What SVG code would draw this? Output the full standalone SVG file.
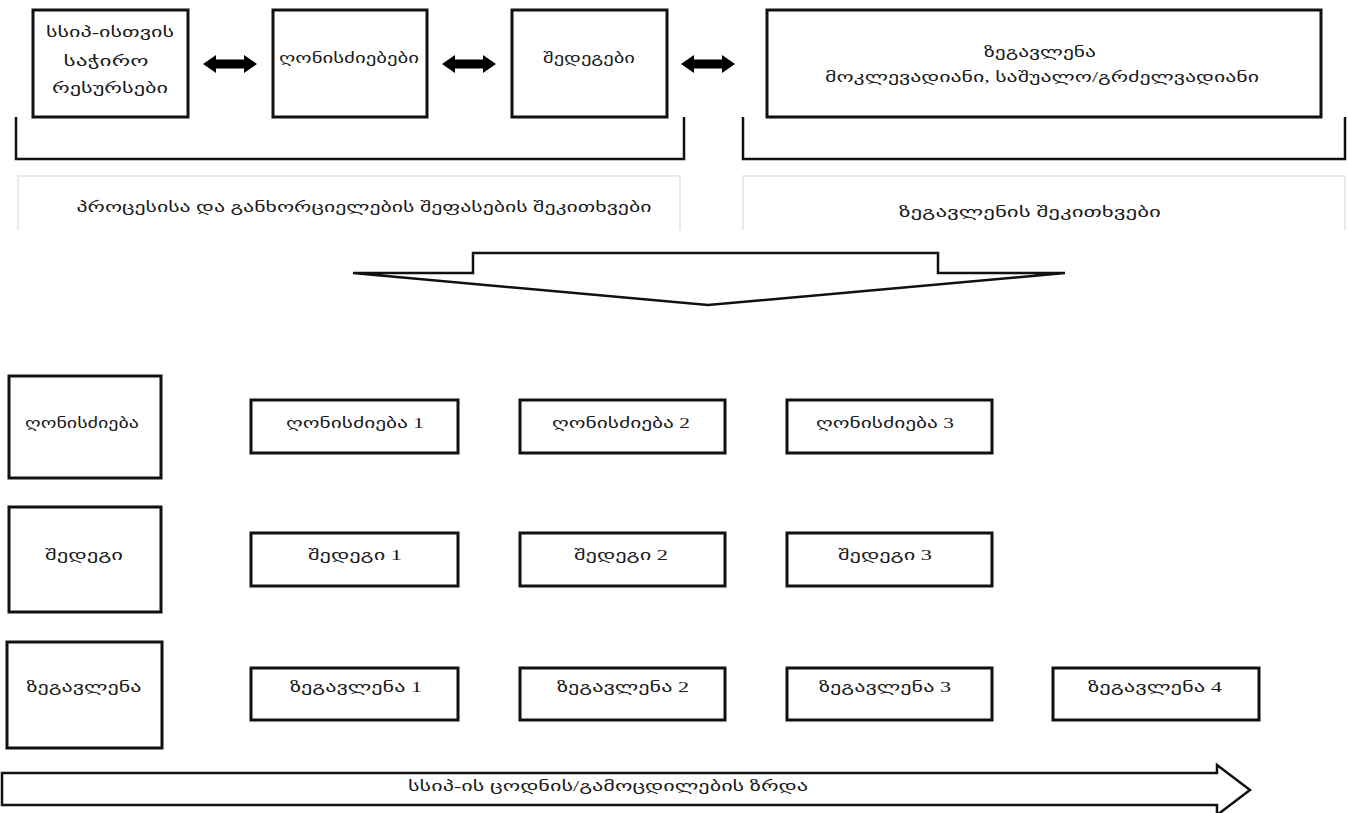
<svg xmlns="http://www.w3.org/2000/svg" width="1348" height="813" viewBox="0 0 1348 813">
  <style>
    .box { fill: #ffffff; stroke: #111111; stroke-width: 3; }
    .line { fill: none; stroke: #111111; stroke-width: 2.5; }
    .frame { fill: none; stroke: #e4e4e4; stroke-width: 1.5; }
    .dbl { fill: #000000; stroke: none; }
    .big { fill: #ffffff; stroke: #111111; stroke-width: 2.5; stroke-linejoin: miter; }
    text { font-family: "Liberation Serif", "DejaVu Sans", sans-serif; font-size: 14px; fill: #1a1a1a; text-anchor: middle; }
  </style>
  <defs>
    <!-- horizontal two-headed arrow, 54 px long, centred on the origin -->
    <polygon id="twoWay" class="dbl" points="-27,0 -14,-9 -14,-4.5 14,-4.5 14,-9 27,0 14,9 14,4.5 -14,4.5 -14,9"/>
  </defs>

  <rect width="1348" height="813" fill="#ffffff"/>

  <!-- upper chain -->
  <g id="resources">
    <rect class="box" x="33" y="10" width="155" height="107"/>
    <text x="110" y="37" textLength="128" lengthAdjust="spacingAndGlyphs">სსიპ-ისთვის</text>
    <text x="106" y="66" textLength="85" lengthAdjust="spacingAndGlyphs">საჭირო</text>
    <text x="110" y="93" textLength="116" lengthAdjust="spacingAndGlyphs">რესურსები</text>
  </g>
  <g id="activities">
    <rect class="box" x="273" y="10" width="154" height="107"/>
    <text x="349" y="63" textLength="140" lengthAdjust="spacingAndGlyphs">ღონისძიებები</text>
  </g>
  <g id="outputs">
    <rect class="box" x="512" y="10" width="155" height="107"/>
    <text x="589" y="63" textLength="92" lengthAdjust="spacingAndGlyphs">შედეგები</text>
  </g>
  <g id="impact">
    <rect class="box" x="767" y="10" width="554" height="107"/>
    <text x="1040" y="57" textLength="112" lengthAdjust="spacingAndGlyphs">ზეგავლენა</text>
    <text x="1042" y="82" textLength="434" lengthAdjust="spacingAndGlyphs">მოკლევადიანი, საშუალო/გრძელვადიანი</text>
  </g>

  <!-- question panels -->
  <g id="process-questions">
    <path class="frame" d="M18,230 V176 H680 V230"/>
    <text x="364" y="212" textLength="575" lengthAdjust="spacingAndGlyphs">პროცესისა და განხორციელების შეფასების შეკითხვები</text>
  </g>
  <g id="impact-questions">
    <path class="frame" d="M743,230 V176 H1345 V230"/>
    <text x="1030" y="217" textLength="262" lengthAdjust="spacingAndGlyphs">ზეგავლენის შეკითხვები</text>
  </g>

  <!-- row headers -->
  <g id="row-activity">
    <rect class="box" x="9" y="376" width="152" height="102"/>
    <text x="82" y="428" textLength="114" lengthAdjust="spacingAndGlyphs">ღონისძიება</text>
  </g>
  <g id="row-output">
    <rect class="box" x="9" y="507" width="152" height="105"/>
    <text x="84" y="560" textLength="78" lengthAdjust="spacingAndGlyphs">შედეგი</text>
  </g>
  <g id="row-impact">
    <rect class="box" x="7" y="642" width="155" height="106"/>
    <text x="84" y="692" textLength="115" lengthAdjust="spacingAndGlyphs">ზეგავლენა</text>
  </g>

  <!-- activity row -->
  <g id="activity-1">
    <rect class="box" x="251" y="400" width="207" height="53"/>
    <text x="355" y="428" textLength="138" lengthAdjust="spacingAndGlyphs">ღონისძიება 1</text>
  </g>
  <g id="activity-2">
    <rect class="box" x="520" y="400" width="205" height="53"/>
    <text x="621" y="428" textLength="138" lengthAdjust="spacingAndGlyphs">ღონისძიება 2</text>
  </g>
  <g id="activity-3">
    <rect class="box" x="787" y="400" width="205" height="53"/>
    <text x="885" y="428" textLength="138" lengthAdjust="spacingAndGlyphs">ღონისძიება 3</text>
  </g>

  <!-- output row -->
  <g id="output-1">
    <rect class="box" x="251" y="533" width="207" height="53"/>
    <text x="355" y="560" textLength="94" lengthAdjust="spacingAndGlyphs">შედეგი 1</text>
  </g>
  <g id="output-2">
    <rect class="box" x="520" y="533" width="205" height="53"/>
    <text x="621" y="560" textLength="94" lengthAdjust="spacingAndGlyphs">შედეგი 2</text>
  </g>
  <g id="output-3">
    <rect class="box" x="787" y="533" width="205" height="53"/>
    <text x="885" y="560" textLength="94" lengthAdjust="spacingAndGlyphs">შედეგი 3</text>
  </g>

  <!-- impact row -->
  <g id="impact-1">
    <rect class="box" x="251" y="668" width="207" height="52"/>
    <text x="356" y="692" textLength="132" lengthAdjust="spacingAndGlyphs">ზეგავლენა 1</text>
  </g>
  <g id="impact-2">
    <rect class="box" x="520" y="668" width="205" height="52"/>
    <text x="623" y="692" textLength="132" lengthAdjust="spacingAndGlyphs">ზეგავლენა 2</text>
  </g>
  <g id="impact-3">
    <rect class="box" x="787" y="668" width="205" height="52"/>
    <text x="885" y="692" textLength="132" lengthAdjust="spacingAndGlyphs">ზეგავლენა 3</text>
  </g>
  <g id="impact-4">
    <rect class="box" x="1053" y="668" width="206" height="52"/>
    <text x="1155" y="692" textLength="134" lengthAdjust="spacingAndGlyphs">ზეგავლენა 4</text>
  </g>

  <!-- connectors: two-way arrows, brackets, transition arrow, growth arrow -->
  <g id="connectors">
    <use href="#twoWay" x="230" y="64"/>
    <use href="#twoWay" x="469" y="64"/>
    <use href="#twoWay" x="708" y="64"/>

    <path class="line" d="M16,117 V159 H684 V117"/>
    <path class="line" d="M743,117 V159 H1345 V117"/>

    <polygon class="big" points="473,253 938,253 938,273 1065,273 708,305 353,273 473,273"/>

    <g id="growth">
      <polygon class="big" stroke-width="3" points="2,773 1217,773 1217,765 1250,790 1217,815 1217,805 2,805"/>
      <text x="608" y="791" textLength="400" lengthAdjust="spacingAndGlyphs">სსიპ-ის ცოდნის/გამოცდილების ზრდა</text>
    </g>
  </g>
</svg>
